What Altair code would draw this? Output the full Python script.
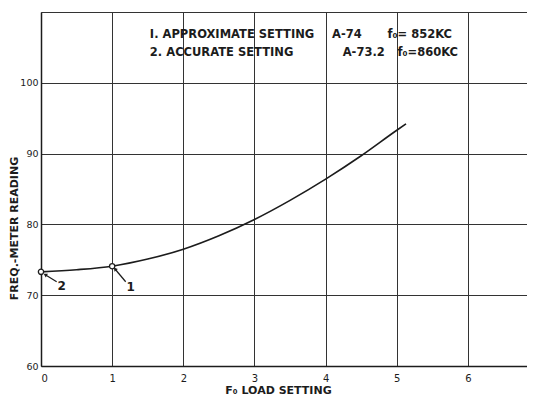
import altair as alt
import pandas as pd

# Curve
curve_x = [0, 0.5, 1, 1.5, 2, 2.5, 3, 3.5, 4, 4.5, 5, 5.13]
curve_y = [73.3, 73.6, 74.1, 75.1, 76.5, 78.4, 80.7, 83.4, 86.4, 89.7, 93.3, 94.2]

# Marked settings
point_x = [0, 1]
point_y = [73.3, 74.1]
point_lbl = ["2", "1"]

# Label / arrow positions (data units)
lbl_x = [0.29, 1.26]
lbl_y = [71.3, 71.1]
arr_x = [0.22, 1.19]
arr_y = [71.9, 71.9]
arr_x2 = [0.06, 1.04]
arr_y2 = [72.9, 73.7]
arr_angle = [302, 320]

# Legend text pieces
note_text = ["I.  APPROXIMATE SETTING", "A-74", "f\u2080= 852KC",
             "2.  ACCURATE SETTING", "A-73.2", "f\u2080=860KC"]
note_x = [1.53, 4.09, 4.87, 1.53, 4.24, 5.01]
note_y = [106.8, 106.8, 106.8, 104.2, 104.2, 104.2]

x_grid = [0, 1, 2, 3, 4, 5, 6, 7]
y_grid = [60, 70, 80, 90, 100, 110]

FONT = "DejaVu Sans"
INK = "#1c1c1c"

curve = pd.DataFrame({"x": curve_x, "y": curve_y})
pts = pd.DataFrame({"x": point_x, "y": point_y, "l": point_lbl})
lbls = pd.DataFrame({"x": lbl_x, "y": lbl_y, "l": point_lbl})
arrows = pd.DataFrame({"x": arr_x, "y": arr_y, "x2": arr_x2, "y2": arr_y2, "a": arr_angle})
notes = pd.DataFrame({"x": note_x, "y": note_y, "t": note_text})

xs = alt.Scale(domain=[0, 6.83], nice=False, zero=False)
ys = alt.Scale(domain=[60, 110], nice=False, zero=False)

xaxis = alt.Axis(values=x_grid, title="F\u2080   LOAD SETTING", format="d",
                 labelExpr="datum.value > 6 ? '' : datum.label",
                 grid=True, gridColor="#333", gridWidth=1, ticks=False, domain=True,
                 domainColor=INK, domainWidth=1.5, labelFont=FONT, labelFontSize=10,
                 labelColor=INK, labelPadding=7, titleFont=FONT, titleFontSize=11,
                 titleFontWeight="bold", titleColor=INK, titleX=237, titleY=29, titleBaseline="bottom")
yaxis = alt.Axis(values=y_grid, title="FREQ.-METER READING", format="d",
                 labelExpr="datum.value > 100 ? '' : datum.label",
                 grid=True, gridColor="#333", gridWidth=1, ticks=False, domain=True,
                 domainColor=INK, domainWidth=1.5, labelFont=FONT, labelFontSize=9.5,
                 labelColor=INK, labelPadding=3, titleFont=FONT, titleFontSize=11,
                 titleFontWeight="bold", titleColor=INK, titleX=-27, titleY=216,
                 titleBaseline="middle", titleAngle=-90)

line = alt.Chart(curve).mark_line(color=INK, strokeWidth=1.6, interpolate="monotone").encode(
    x=alt.X("x:Q", scale=xs, axis=xaxis),
    y=alt.Y("y:Q", scale=ys, axis=yaxis),
)

circles = alt.Chart(pts).mark_point(shape="circle", size=28, filled=False, color=INK,
                                     strokeWidth=1.3, fill="white", fillOpacity=1).encode(
    x=alt.X("x:Q", scale=xs), y=alt.Y("y:Q", scale=ys))

arrow_lines = alt.Chart(arrows).mark_rule(color=INK, strokeWidth=1.2).encode(
    x=alt.X("x:Q", scale=xs), y=alt.Y("y:Q", scale=ys), x2="x2:Q", y2="y2:Q")

arrow_heads = alt.Chart(arrows).mark_point(shape="triangle-up", filled=True, color=INK,
                                            size=18, opacity=1).encode(
    x=alt.X("x2:Q", scale=xs), y=alt.Y("y2:Q", scale=ys), angle=alt.Angle("a:Q", scale=None))

num_labels = alt.Chart(lbls).mark_text(font=FONT, fontSize=12, fontWeight="bold", color=INK,
                                        align="center", baseline="middle").encode(
    x=alt.X("x:Q", scale=xs), y=alt.Y("y:Q", scale=ys), text="l:N")

note_marks = alt.Chart(notes).mark_text(font=FONT, fontSize=11.5, fontWeight="bold", color=INK,
                                         align="left", baseline="middle").encode(
    x=alt.X("x:Q", scale=xs), y=alt.Y("y:Q", scale=ys), text="t:N")

chart = alt.layer(line, arrow_lines, arrow_heads, circles, num_labels, note_marks).properties(
    width=486, height=354,
    autosize=alt.AutoSizeParams(type="none"),
    padding={"left": 33, "top": 4, "right": 0, "bottom": 30},
    background="white",
).configure_view(stroke=None)

chart.save("out.html", embed_options={"renderer": "svg", "actions": False})
